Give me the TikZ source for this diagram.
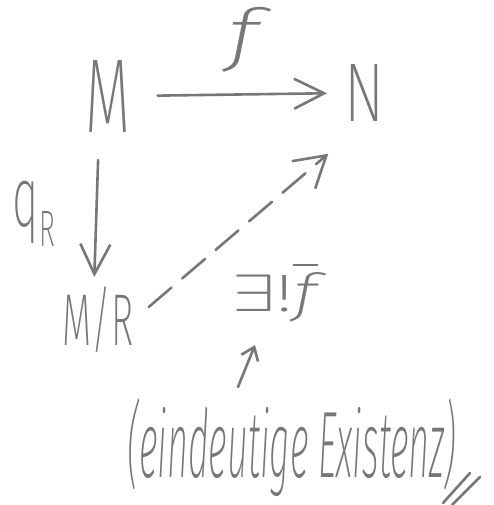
\documentclass[tikz,border=0pt]{standalone}
\usepackage{fontspec}
\usepackage{graphicx}
\setmainfont{Fira Sans Light}[ItalicFont={Fira Sans Light Italic}]
\newfontfamily\thinhand{Fira Sans ExtraLight}[ItalicFont={Fira Sans ExtraLight Italic}]
\usetikzlibrary{arrows.meta}
\definecolor{pen}{HTML}{777777}
\tikzset{
  hw/.style={inner sep=0pt, outer sep=0pt, text=pen, font=\thinhand},
  stroke/.style={draw=pen, line width=2.6pt, line cap=round, line join=round},
  arr/.style={stroke, -{Straight Barb[length=30pt, width=30pt]}},
}
\begin{document}
\begin{tikzpicture}[x=1pt, y=-1pt]
\fill[white] (0,0) rectangle (493,505);
\useasboundingbox (0,0) rectangle (493,505);
\node[hw] (M) at (108,96) {\resizebox*{45pt}{72pt}{M}};
\node[hw] (f) at (244,40) {\resizebox*{32pt}{65pt}{\itshape f}};
\node[hw] (N) at (365,93) {\resizebox*{40pt}{57pt}{N}};
\node[hw] (q) at (34,214) {\resizebox*{42pt}{65pt}{q\raisebox{-2.3pt}{\fontsize{6}{6}\selectfont R}}};
\node[hw] (MR) at (98,320) {\resizebox*{71pt}{66pt}{M/R}};
\node[hw] (E) at (275,292) {\resizebox*{85pt}{60pt}{$\exists$!$\overline{\mbox{\itshape f}}$}};
\node[hw] (txt) at (292,448) {\resizebox*{329pt}{98pt}{\itshape(eindeutige Existenz)}};
\draw[arr, shorten <=27pt, shorten >=18pt] (M.east) -- (N.west);
\draw[arr, shorten <=28pt, shorten >=10pt] ([xshift=-9pt]M.south) -- ([xshift=-4pt]MR.north);
\draw[stroke, dash pattern=on 30pt off 14pt, -{Straight Barb[length=30pt, width=36pt]}, shorten <=20pt, shorten >=22pt] (MR.east) -- ([yshift=-18pt]N.south west);
\draw[stroke, -{Straight Barb[length=12pt, width=18pt]}] ([xshift=-54pt,yshift=12pt]txt.north) -- ([xshift=-20pt,yshift=-23pt]E.south);
\draw[stroke] (443,503) -- (470,473);
\draw[stroke] (452,505) -- (480,477);
\end{tikzpicture}
\end{document}
